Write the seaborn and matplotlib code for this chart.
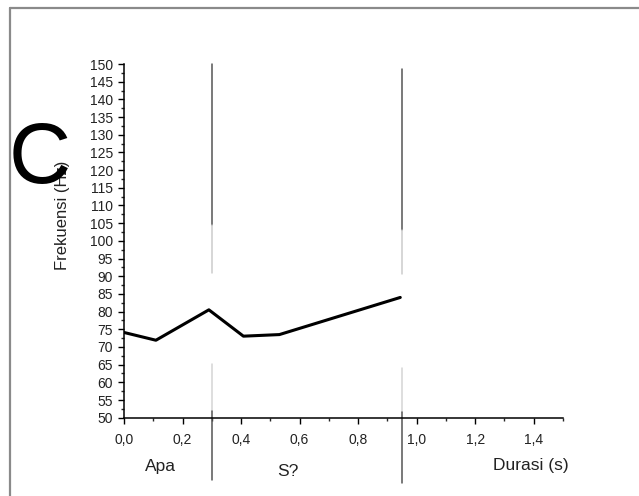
import matplotlib
matplotlib.use("Agg")
import matplotlib.pyplot as plt
import seaborn as sns
import pandas as pd
from matplotlib.lines import Line2D
from matplotlib.ticker import MultipleLocator, FuncFormatter

# Data
durasi = [0.0, 0.109, 0.29, 0.408, 0.531, 0.944]
frekuensi = [74.1, 71.9, 80.5, 73.05, 73.5, 84.0]
boundary_x = [0.302, 0.951]
segment_labels = ["Apa", "S?", "Durasi (s)"]
segment_label_x = [0.126, 0.56, 1.39]
segment_label_y = [36.3, 34.9, 36.5]

sns.set_style("ticks")
plt.rcParams['font.family'] = ['Liberation Sans', 'DejaVu Sans']

fig = plt.figure(figsize=(6.39, 4.96), dpi=100)
ax = fig.add_axes([124/639, 1-417.7/496, (563-124)/639, (417.7-64)/496])

df = pd.DataFrame({"Durasi": durasi, "Frekuensi": frekuensi})
sns.lineplot(data=df, x="Durasi", y="Frekuensi", ax=ax, color="black",
             linewidth=2.2, estimator=None, sort=False)

ax.set_xlim(0, 1.5)
ax.set_ylim(50, 150)
ax.xaxis.set_major_locator(MultipleLocator(0.2))
ax.xaxis.set_minor_locator(MultipleLocator(0.1))
ax.yaxis.set_major_locator(MultipleLocator(5))
ax.yaxis.set_minor_locator(MultipleLocator(2.5))
ax.xaxis.set_major_formatter(FuncFormatter(lambda v, p: f"{v:.1f}".replace(".", ",")))
ax.set_xticks([0, 0.2, 0.4, 0.6, 0.8, 1.0, 1.2, 1.4])
ax.tick_params(axis="both", which="major", direction="out", length=4, width=1.0,
               labelsize=10, colors="black")
ax.tick_params(axis="both", which="minor", direction="out", length=2.2, width=1.0)
ax.tick_params(axis="x", which="major", pad=7)
ax.tick_params(axis="y", which="major", pad=4)
for lab in ax.get_xticklabels() + ax.get_yticklabels():
    lab.set_color("#222222")
sns.despine(ax=ax)
for s in ["left", "bottom"]:
    ax.spines[s].set_linewidth(1.1)
    ax.spines[s].set_color("black")
ax.set_xlabel("")
ax.set_ylabel("")

# Vertical boundary lines (with faded parts)
upper = [(150, 104.4, 91.0), (148.6, 103.0, 90.6)]
lower = [(65.3, 52.0, 32.5), (64.1, 51.5, 31.6)]
for bx, (u0, u1, u2), (l0, l1, l2) in zip(boundary_x, upper, lower):
    ax.plot([bx, bx], [u0, u1], color="#555555", lw=1.1, clip_on=False, zorder=1)
    ax.plot([bx, bx], [u1, u2], color="#cccccc", lw=1.1, clip_on=False, zorder=1)
    ax.plot([bx, bx], [l0, l1], color="#d4d4d4", lw=1.1, clip_on=False, zorder=1)
    ax.plot([bx, bx], [l1, l2], color="#555555", lw=1.1, clip_on=False, zorder=1)

for t, tx, ty in zip(segment_labels, segment_label_x, segment_label_y):
    ax.text(tx, ty, t, ha="center", va="center", fontsize=12.5, color="#222222",
            clip_on=False)

fig.text(62/639, 1-215/496, "Frekuensi (Hz)", rotation=90, ha="center", va="center",
         fontsize=12, color="#222222")
fig.text(40/639, 1-183/496, "C", ha="center", va="baseline", fontsize=62,
         color="black", zorder=5)

# Frame border
fig.add_artist(Line2D([9.5/639, 1.0], [1-7.5/496, 1-7.5/496], transform=fig.transFigure,
                      color="#8a8a8a", lw=1.6))
fig.add_artist(Line2D([9.5/639, 9.5/639], [0, 1-7.5/496], transform=fig.transFigure,
                      color="#8a8a8a", lw=1.6))

fig.savefig("out.png", dpi=100, facecolor="white")
